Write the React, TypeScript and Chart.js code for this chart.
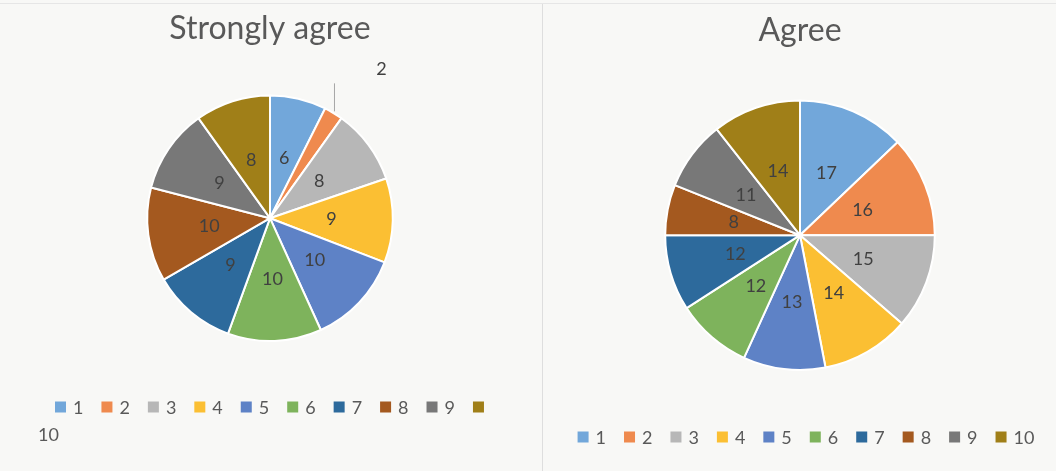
import React, { useEffect, useRef } from "react";
import { Chart, registerables } from "chart.js";

Chart.register(...registerables);

const categories = ["1", "2", "3", "4", "5", "6", "7", "8", "9", "10"];
const stronglyAgreeValues = [6, 2, 8, 9, 10, 10, 9, 10, 9, 8];
const agreeValues = [17, 16, 15, 14, 13, 12, 12, 8, 11, 14];
const sliceColors = [
  "#72a7da",
  "#ef8a4e",
  "#b7b7b7",
  "#fbbf33",
  "#5e82c6",
  "#7eb35c",
  "#2d6a9c",
  "#a4591f",
  "#787878",
  "#a07f18",
];
const chartTitles = ["Strongly agree", "Agree"];

const FONT = "Lato, 'Open Sans', sans-serif";

const sliceLabels = {
  id: "sliceLabels",
  afterDatasetsDraw(chart: any) {
    const ctx = chart.ctx;
    const meta = chart.getDatasetMeta(0);
    const data = chart.data.datasets[0].data as number[];
    const total = data.reduce((a, b) => a + b, 0);
    ctx.save();
    ctx.font = `18px ${FONT}`;
    ctx.fillStyle = "#404040";
    ctx.textAlign = "center";
    ctx.textBaseline = "middle";
    meta.data.forEach((arc: any, i: number) => {
      const p = arc.getProps(["x", "y", "startAngle", "endAngle", "outerRadius"], true);
      const mid = (p.startAngle + p.endAngle) / 2;
      const v = data[i];
      if (v / total < 0.04) {
        const ex = p.x + Math.cos(mid) * (p.outerRadius + 2);
        const ey = p.y + Math.sin(mid) * (p.outerRadius + 2);
        ctx.strokeStyle = "#a6a6a6";
        ctx.lineWidth = 1;
        ctx.beginPath();
        ctx.moveTo(ex, ey);
        ctx.lineTo(ex, ey - 28);
        ctx.stroke();
        ctx.fillText(String(v), ex + 47, ey - 42);
      } else {
        const r = p.outerRadius * 0.5;
        ctx.fillText(String(v), p.x + Math.cos(mid) * r, p.y + Math.sin(mid) * r);
      }
    });
    ctx.restore();
  },
};

const customLegend = {
  id: "customLegend",
  afterDraw(chart: any, _args: any, opts: any) {
    const ctx = chart.ctx;
    const labels = chart.data.labels as string[];
    const colors = chart.data.datasets[0].backgroundColor as string[];
    const box = 11;
    const gap = 7;
    const itemGap = 18;
    ctx.save();
    ctx.font = `18px ${FONT}`;
    ctx.textBaseline = "middle";
    ctx.textAlign = "left";
    const widths = labels.map((l) => ctx.measureText(l).width);
    type Item = { i: number; x: number; text: boolean };
    const line1: Item[] = [];
    let pos = 0;
    let wrapStart = labels.length;
    const avail = opts.maxWidth;
    for (let i = 0; i < labels.length; i++) {
      const need = box + gap + widths[i];
      if (pos + need <= avail) {
        line1.push({ i, x: pos, text: true });
        pos += need + itemGap;
      } else if (pos + box <= avail) {
        line1.push({ i, x: pos, text: false });
        pos += box + itemGap;
        wrapStart = i;
        break;
      } else {
        wrapStart = i;
        break;
      }
    }
    const lineWidth = pos - itemGap;
    const x0 = opts.centerX !== undefined ? opts.centerX - lineWidth / 2 : opts.x;
    line1.forEach((it) => {
      ctx.fillStyle = colors[it.i];
      ctx.fillRect(x0 + it.x, opts.y - box / 2, box, box);
      if (it.text) {
        ctx.fillStyle = "#595959";
        ctx.fillText(labels[it.i], x0 + it.x + box + gap, opts.y + 1);
      }
    });
    if (wrapStart < labels.length) {
      let x2 = opts.wrapX;
      const last = line1[line1.length - 1];
      if (last && !last.text) {
        ctx.fillStyle = "#595959";
        ctx.fillText(labels[last.i], x2, opts.y2 + 1);
        x2 += widths[last.i] + itemGap;
      }
      for (let i = wrapStart + 1; i < labels.length; i++) {
        ctx.fillStyle = colors[i];
        ctx.fillRect(x2, opts.y2 - box / 2, box, box);
        ctx.fillStyle = "#595959";
        ctx.fillText(labels[i], x2 + box + gap, opts.y2 + 1);
        x2 += box + gap + widths[i] + itemGap;
      }
    }
    ctx.restore();
  },
};

type PieProps = {
  title: string;
  values: number[];
  width: number;
  height: number;
  padding: { left: number; right: number; top: number; bottom: number };
  titlePadding: { top: number; bottom: number };
  legend: any;
};

function PieChart(props: PieProps) {
  const ref = useRef<HTMLCanvasElement | null>(null);
  useEffect(() => {
    if (!ref.current) return;
    const chart = new Chart(ref.current, {
      type: "pie",
      data: {
        labels: categories,
        datasets: [
          {
            data: props.values,
            backgroundColor: sliceColors,
            borderColor: "#ffffff",
            borderWidth: 2,
          },
        ],
      },
      options: {
        responsive: false,
        animation: false,
        devicePixelRatio: 1,
        events: [],
        layout: { padding: props.padding },
        plugins: {
          legend: { display: false },
          tooltip: { enabled: false },
          title: {
            display: true,
            text: props.title,
            color: "#595959",
            font: { family: FONT, size: 32, weight: "normal" as any },
            padding: props.titlePadding,
          },
          customLegend: props.legend,
        } as any,
      },
      plugins: [sliceLabels, customLegend],
    });
    return () => chart.destroy();
  }, []);
  return (
    <canvas
      ref={ref}
      width={props.width}
      height={props.height}
      style={{ width: props.width, height: props.height, display: "block" }}
    />
  );
}

export default function App() {
  return (
    <div
      style={{
        position: "fixed",
        left: 0,
        top: 0,
        width: 1056,
        height: 471,
        background: "#f8f8f6",
        overflow: "hidden",
      }}
    >
      <div style={{ position: "absolute", left: 0, top: 3, width: 1056, height: 1, background: "#e6e6e6" }} />
      <div style={{ position: "absolute", left: 542, top: 4, width: 1, height: 467, background: "#dedede" }} />
      <div style={{ position: "absolute", left: 0, top: 0 }}>
        <PieChart
          title={chartTitles[0]}
          values={stronglyAgreeValues}
          width={540}
          height={471}
          padding={{ left: 146, right: 146, top: 0, bottom: 129 }}
          titlePadding={{ top: 9, bottom: 47 }}
          legend={{ x: 55, maxWidth: 450, y: 407, wrapX: 38, y2: 434 }}
        />
      </div>
      <div style={{ position: "absolute", left: 543, top: 0 }}>
        <PieChart
          title={chartTitles[1]}
          values={agreeValues}
          width={513}
          height={471}
          padding={{ left: 121, right: 120, top: 0, bottom: 100 }}
          titlePadding={{ top: 11, bottom: 50 }}
          legend={{ centerX: 263, maxWidth: 490, y: 437 }}
        />
      </div>
    </div>
  );
}
